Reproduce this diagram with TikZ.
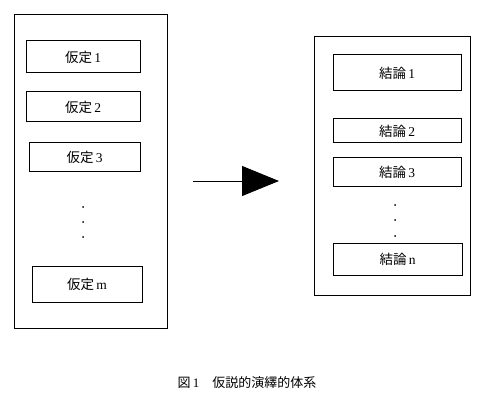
\documentclass[tikz,border=0pt]{standalone}
\usepackage{fontspec}
\setmainfont{Liberation Serif}
\newfontfamily\cjk{Noto Sans CJK JP}
\usetikzlibrary{arrows.meta}

\tikzset{every picture/.style={line width=1pt, x=1pt, y=-1pt}}
\tikzset{frame box/.style={draw, rectangle, inner sep=0pt}}
\tikzset{item box/.style={draw, rectangle, inner sep=0pt, font=\fontsize{13.5}{14}\selectfont}}
\tikzset{dot node/.style={circle, minimum width=2pt, fill, inner sep=0pt, black}}
\newcommand{\katei}[1]{{\cjk 仮定}\,#1}
\newcommand{\ketsuron}[1]{{\cjk 結論}\,#1}

\begin{document}
\begin{tikzpicture}
        \useasboundingbox (0,0) rectangle (482,409);
        % hypotheses
        \node[frame box, minimum width=153pt, minimum height=313pt] (hyp frame) at (90.5,171.5) {};
        \node[item box, minimum width=114pt, minimum height=32pt] (hyp1) at (83,57) {\katei{1}};
        \node[item box, minimum width=114pt, minimum height=30pt] (hyp2) at (83,107) {\katei{2}};
        \node[item box, minimum width=111pt, minimum height=29pt] (hyp3) at (84.5,157.5) {\katei{3}};
        \node[dot node] (hyp dot1) at (83,207) {};
        \node[dot node] (hyp dot2) at (83,222) {};
        \node[dot node] (hyp dot3) at (83,237) {};
        \node[item box, minimum width=110pt, minimum height=36pt] (hypm) at (87,284) {\katei{m}};
        % conclusions
        \node[frame box, minimum width=156pt, minimum height=258pt] (con frame) at (392,166) {};
        \node[item box, minimum width=128pt, minimum height=36pt] (con1) at (397,73) {\ketsuron{1}};
        \node[item box, minimum width=128pt, minimum height=24pt] (con2) at (397,131) {\ketsuron{2}};
        \node[item box, minimum width=128pt, minimum height=28pt] (con3) at (397,172) {\ketsuron{3}};
        \node[dot node] (con dot1) at (395,205) {};
        \node[dot node] (con dot2) at (395,220) {};
        \node[dot node] (con dot3) at (395,236) {};
        \node[item box, minimum width=129pt, minimum height=32pt] (conn) at (397.5,259) {\ketsuron{n}};
        % arrow
        \coordinate (arrow start) at (193,181);
        \coordinate (arrow end) at (279,181);
        \draw[-{Triangle[length=37pt,width=30pt]}] (arrow start) -- (arrow end);
        % caption
        \node[font=\fontsize{13}{14}\selectfont] (caption) at (247,383) {{\cjk 図}\,1\quad{\cjk 仮説的演繹的体系}};
    \end{tikzpicture}
\end{document}
